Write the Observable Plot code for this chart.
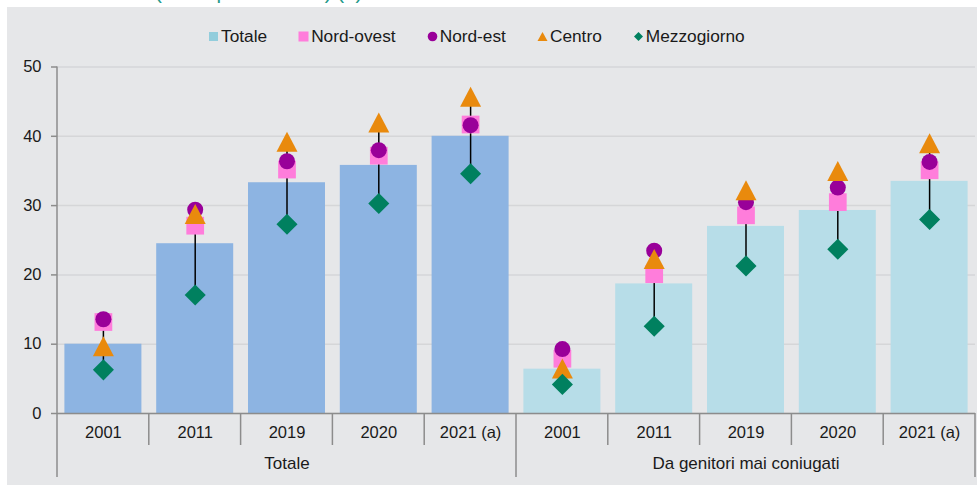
<!DOCTYPE html>
<html>
<head>
<meta charset="utf-8">
<script src="https://cdn.jsdelivr.net/npm/d3@7"></script>
<script src="https://cdn.jsdelivr.net/npm/@observablehq/plot@0.6"></script>
<style>
  html, body { margin: 0; padding: 0; background: #ffffff; }
  #wrap { position: relative; width: 977px; height: 488px; overflow: hidden; font-family: "Liberation Sans", Arial, sans-serif; }
  #title { position: absolute; left: 155px; top: -18px; font-size: 20.5px; line-height: 20.5px; color: #1f9a8a; white-space: nowrap; }
  #panel { position: absolute; left: 7px; top: 7px; width: 970px; height: 478px; background: #e6e7e9; }
  #legend { height: 40px; box-sizing: border-box; padding-top: 18px; padding-left: 201px; display: flex; align-items: center; gap: 31px; font-size: 17.3px; line-height: 20px; color: #1a1a1a; }
  #legend .item { display: flex; align-items: center; gap: 2px; height: 20px; }
  #legend svg { display: block; }
</style>
</head>
<body>
<div id="wrap">
  <div id="title">(valori per 100 nati) (a)</div>
  <div id="panel">
    <div id="legend"></div>
    <div id="chart"></div>
  </div>
</div>
<script>
// ---- data ----
const groups = ["Totale", "Da genitori mai coniugati"];
const years = ["2001", "2011", "2019", "2020", "2021 (a)"];
const yTicks = [0, 10, 20, 30, 40, 50];
const seriesNames = ["Totale", "Nord-ovest", "Nord-est", "Centro", "Mezzogiorno"];
const totale      = [10.0, 24.5, 33.3, 35.8, 40.0,  6.4, 18.7, 27.0, 29.3, 33.5];
const nordOvest   = [13.2, 27.1, 35.2, 37.2, 41.7,  7.9, 20.1, 28.6, 30.5, 35.1];
const nordEst     = [13.6, 29.4, 36.4, 38.0, 41.6,  9.3, 23.5, 30.5, 32.6, 36.3];
const centro      = [ 9.7, 28.8, 39.2, 42.0, 45.7,  6.5, 22.3, 32.2, 35.0, 39.0];
const mezzogiorno = [ 6.3, 17.1, 27.3, 30.3, 34.6,  4.2, 12.6, 21.3, 23.7, 28.0];

// ---- styles ----
const barColors = ["#8db4e2", "#b7dde8"];
const legendColors = ["#92cddc", "#ff7ddb", "#990099", "#e98a0d", "#00805f"];
const axisGrey = "#8c8c8c";
const textColor = "#1a1a1a";

// ---- table ----
const rows = groups.flatMap((g, gi) => years.map((yr, yi) => {
  const i = gi * years.length + yi;
  return {key: g + "|" + yr, group: g, year: yr,
          totale: totale[i], nordOvest: nordOvest[i], nordEst: nordEst[i],
          centro: centro[i], mezzogiorno: mezzogiorno[i]};
}));
const keys = rows.map(d => d.key);
const regionVals = d => [d.nordOvest, d.nordEst, d.centro, d.mezzogiorno];

// triangle whose bounding box is centred on the value
const triangleSym = { draw(ctx, size) { const s = Math.sqrt(size); const h = 0.627 * s, w = 0.658 * s;
  ctx.moveTo(0, -h); ctx.lineTo(w, h); ctx.lineTo(-w, h); ctx.closePath(); } };

// category axis separators + y axis line, drawn from the scales
function categoryAxis(index, scales, values, dims) {
  const {x, y} = scales;
  const step = (dims.width - dims.marginLeft - dims.marginRight) / keys.length;
  const base = dims.height - dims.marginBottom;
  const g = d3.create("svg:g").attr("stroke", axisGrey).attr("stroke-width", 1.5).attr("fill", "none");
  g.append("line").attr("x1", dims.marginLeft).attr("x2", dims.marginLeft)
    .attr("y1", y(yTicks[0])).attr("y2", y(yTicks[yTicks.length - 1]));
  keys.forEach((k, i) => {
    const left = x(k);
    const long = i % years.length === 0;
    g.append("line").attr("x1", left).attr("x2", left).attr("y1", base).attr("y2", base + (long ? 64 : 32));
  });
  const right = x(keys[keys.length - 1]) + step;
  g.append("line").attr("x1", right).attr("x2", right).attr("y1", base).attr("y2", base + 64);
  return g.node();
}

const chart = Plot.plot({
  width: 970,
  height: 438,
  marginTop: 19.5,
  marginBottom: 72,
  marginLeft: 50,
  marginRight: 2,
  style: {fontFamily: '"Liberation Sans", Arial, sans-serif', fontSize: "16px", background: "transparent", color: textColor, overflow: "visible"},
  x: {domain: keys, padding: 0, round: false, axis: null},
  y: {domain: [0, 50], axis: null},
  color: {domain: groups, range: barColors},
  marks: [
    Plot.gridY(yTicks, {stroke: "#d5d6d8", strokeOpacity: 1, strokeWidth: 1.5}),
    Plot.barY(rows, {x: "key", y: "totale", fill: "group", insetLeft: 7.4, insetRight: 7.4}),
    Plot.ruleY([0], {stroke: axisGrey, strokeWidth: 1.5}),
    Plot.axisY({ticks: yTicks, tickSize: 6, tickPadding: 10, stroke: axisGrey, strokeWidth: 1.5, fill: textColor, label: null, fontSize: 16.5}),
    Plot.ruleX(rows, {x: "key", y1: d => d3.min(regionVals(d)), y2: d => d3.max(regionVals(d)), stroke: "#000000", strokeWidth: 1.5}),
    Plot.dot(rows, {x: "key", y: "nordOvest", symbol: "square", r: 10, fill: legendColors[1], stroke: "none"}),
    Plot.dot(rows, {x: "key", y: "nordEst", symbol: "circle", r: 8, fill: legendColors[2], stroke: "none"}),
    Plot.dot(rows, {x: "key", y: "centro", symbol: triangleSym, r: 9, fill: legendColors[3], stroke: "none"}),
    Plot.dot(rows, {x: "key", y: "mezzogiorno", symbol: "diamond2", r: 9.5, fill: legendColors[4], stroke: "none"}),
    categoryAxis,
    Plot.text(rows, {x: "key", text: "year", frameAnchor: "bottom", dy: 24, fill: textColor, fontSize: 16.5}),
    Plot.text(groups, {x: g => g + "|" + years[Math.floor(years.length / 2)], text: g => g, frameAnchor: "bottom", dy: 55, fill: textColor, fontSize: 17})
  ]
});
document.getElementById("chart").appendChild(chart);

// ---- legend ----
const legend = d3.select("#legend");
const shapes = ["square", "square", "circle", "triangle", "diamond"];
seriesNames.forEach((name, i) => {
  const item = legend.append("span").attr("class", "item");
  const s = item.append("svg").attr("width", 11).attr("height", 11);
  const c = legendColors[i];
  if (shapes[i] === "square") {
    const side = i === 0 ? 9 : 10;
    s.append("rect").attr("x", (11 - side) / 2).attr("y", (11 - side) / 2).attr("width", side).attr("height", side).attr("fill", c);
  } else if (shapes[i] === "circle") {
    s.append("circle").attr("cx", 5.5).attr("cy", 5.5).attr("r", 4.8).attr("fill", c);
  } else if (shapes[i] === "triangle") {
    s.append("path").attr("d", "M5.5,1L10.5,10L0.5,10Z").attr("fill", c);
  } else {
    s.append("path").attr("d", "M5.5,1L10,5.5L5.5,10L1,5.5Z").attr("fill", c);
  }
  item.append("span").text(name);
});
</script>
</body>
</html>
